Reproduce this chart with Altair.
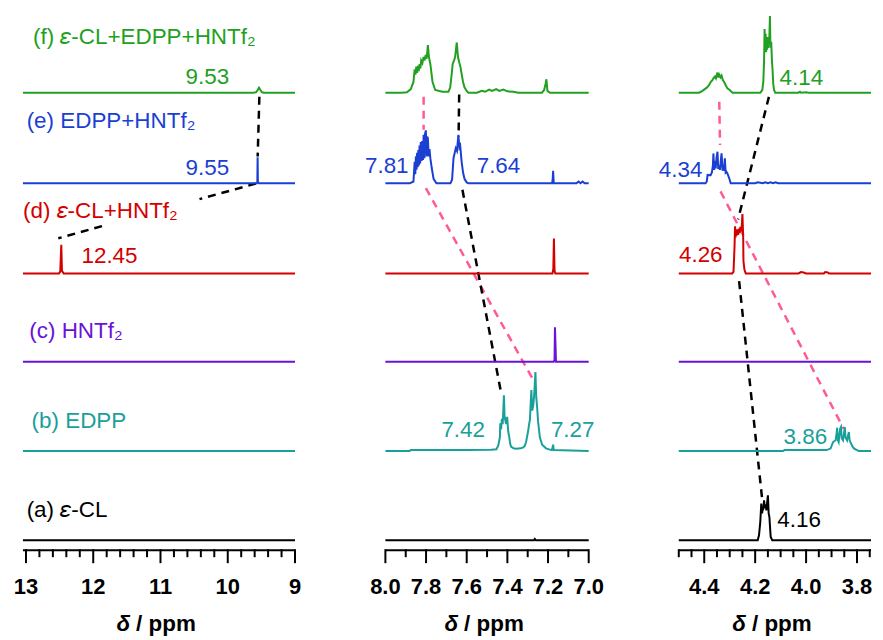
import altair as alt
import pandas as pd

# ---------------- series ----------------
SERIES = ["a", "b", "c", "d", "e", "f"]
SERIES_OFFSET = [0.0, 0.995, 1.99, 2.975, 3.98, 4.99]
SERIES_COLOR = ["#000000", "#1AA09B", "#6A12D8", "#D40000", "#1B3FD2", "#22A022"]
PINK = "#FF5A98"

# ---------------- broken x axis: three ppm windows ----------------
PANEL_PPM_LEFT = [13.045, 8.0, 4.5]
PANEL_PPM_RIGHT = [9.0, 7.0, 3.745]
PANEL_U_LEFT = [0.0, 363.7, 658.1]
PANEL_U_RIGHT = [273.0, 567.7, 851.0]

# ---------------- panel 1 : 13.05 - 9 ppm ----------------
P1_A_PPM = [13.045, 9.0]
P1_A_INT = [0.0, 0.0]
P1_B_PPM = [13.045, 9.0]
P1_B_INT = [0.0, 0.0]
P1_C_PPM = [13.045, 9.0]
P1_C_INT = [0.0, 0.0]
P1_D_PPM = [13.045, 12.51, 12.49, 12.475, 12.465, 12.44, 9.0]
P1_D_INT = [0.0, 0.0, 0.02, 0.32, 0.03, 0.0, 0.0]
P1_E_PPM = [13.045, 9.57, 9.560, 9.556, 9.552, 9.54, 9.0]
P1_E_INT = [0.0, 0.0, 0.01, 0.29, 0.02, 0.0, 0.0]
P1_F_PPM = [13.045, 9.62, 9.58, 9.555, 9.535, 9.515, 9.49, 9.46, 9.0]
P1_F_INT = [0.0, 0.0, 0.005, 0.03, 0.055, 0.03, 0.005, 0.0, 0.0]

# ---------------- panel 2 : 8.0 - 7.0 ppm ----------------
P2_A_PPM = [8.0, 7.27, 7.265, 7.26, 7.0]
P2_A_INT = [0.0, 0.0, 0.015, 0.0, 0.0]
P2_B_PPM = [8.0, 7.88, 7.875, 7.60, 7.48, 7.454, 7.445, 7.437, 7.435, 7.431, 7.427, 7.423,
            7.420, 7.417, 7.414, 7.411, 7.406, 7.401, 7.396, 7.391, 7.386, 7.382, 7.37, 7.356,
            7.335, 7.322, 7.314, 7.308, 7.303, 7.298, 7.293, 7.289, 7.285, 7.282, 7.278, 7.273,
            7.269, 7.265, 7.262, 7.258, 7.254, 7.249, 7.24, 7.229, 7.21, 7.191, 7.182, 7.178,
            7.175, 7.172, 7.0]
P2_B_INT = [0.0, 0.0, 0.01, 0.012, 0.015, 0.02, 0.06, 0.15, 0.31, 0.24, 0.36, 0.30,
            0.45, 0.62, 0.40, 0.35, 0.30, 0.38, 0.22, 0.16, 0.08, 0.05, 0.03, 0.025,
            0.03, 0.04, 0.06, 0.10, 0.16, 0.22, 0.30, 0.35, 0.55, 0.68, 0.45, 0.50,
            0.60, 0.75, 0.88, 0.60, 0.50, 0.33, 0.15, 0.07, 0.03, 0.015, 0.01, 0.04,
            0.07, 0.01, 0.0]
P2_C_PPM = [8.0, 7.172, 7.168, 7.166, 7.163, 7.161, 7.0]
P2_C_INT = [0.0, 0.0, 0.02, 0.385, 0.17, 0.0, 0.0]
P2_D_PPM = [8.0, 7.178, 7.174, 7.171, 7.168, 7.164, 7.0]
P2_D_INT = [0.0, 0.0, 0.05, 0.39, 0.03, 0.0, 0.0]
P2_E_PPM = [8.0, 7.88, 7.862, 7.856, 7.853, 7.850, 7.847, 7.844, 7.841, 7.838, 7.835, 7.832,
            7.829, 7.826, 7.822, 7.819, 7.815, 7.812, 7.808, 7.805, 7.801, 7.797, 7.794, 7.791,
            7.787, 7.783, 7.779, 7.772, 7.763, 7.749, 7.68, 7.672, 7.665, 7.660, 7.654, 7.648,
            7.641, 7.636, 7.632, 7.625, 7.618, 7.611, 7.60, 7.592, 7.18, 7.177, 7.175, 7.172,
            7.06, 7.05, 7.04, 7.03, 7.02, 7.0]
P2_E_INT = [0.0, 0.0, 0.02, 0.24, 0.10, 0.30, 0.15, 0.34, 0.18, 0.37, 0.20, 0.42,
            0.22, 0.46, 0.25, 0.47, 0.26, 0.54, 0.28, 0.55, 0.59, 0.30, 0.52, 0.50,
            0.30, 0.38, 0.28, 0.17, 0.05, 0.0, 0.0, 0.04, 0.28, 0.33, 0.39, 0.36,
            0.54, 0.40, 0.42, 0.24, 0.12, 0.05, 0.01, 0.0, 0.0, 0.05, 0.14, 0.0,
            0.0, 0.02, 0.0, 0.02, 0.0, 0.0]
P2_F_PPM = [8.0, 7.92, 7.894, 7.875, 7.862, 7.856, 7.852, 7.848, 7.844, 7.840, 7.836, 7.832,
            7.828, 7.824, 7.818, 7.812, 7.807, 7.802, 7.797, 7.791, 7.786, 7.779, 7.768, 7.755,
            7.72, 7.69, 7.681, 7.672, 7.669, 7.662, 7.657, 7.649, 7.643, 7.637, 7.630, 7.625,
            7.618, 7.611, 7.60, 7.592, 7.55, 7.526, 7.51, 7.49, 7.475, 7.455, 7.44, 7.42,
            7.40, 7.37, 7.347, 7.23, 7.219, 7.212, 7.208, 7.203, 7.19, 7.0]
P2_F_INT = [0.0, 0.0, 0.005, 0.04, 0.12, 0.26, 0.20, 0.29, 0.22, 0.30, 0.24, 0.32,
            0.27, 0.36, 0.33, 0.40, 0.36, 0.42, 0.38, 0.53, 0.40, 0.32, 0.12, 0.03,
            0.01, 0.01, 0.06, 0.25, 0.32, 0.36, 0.40, 0.56, 0.40, 0.34, 0.28, 0.21,
            0.12, 0.06, 0.02, 0.0, 0.0, 0.02, 0.01, 0.035, 0.02, 0.04, 0.02, 0.035,
            0.015, 0.01, 0.0, 0.0, 0.03, 0.10, 0.15, 0.02, 0.0, 0.0]

# ---------------- panel 3 : 4.5 - 3.745 ppm ----------------
P3_A_PPM = [4.5, 4.19, 4.185, 4.180, 4.176, 4.173, 4.171, 4.168, 4.165, 4.162, 4.159, 4.156,
            4.153, 4.150, 4.147, 4.144, 4.141, 4.139, 4.133, 3.745]
P3_A_INT = [0.0, 0.0, 0.056, 0.2, 0.408, 0.30, 0.333, 0.35, 0.444, 0.36, 0.40, 0.333,
            0.42, 0.5, 0.30, 0.259, 0.12, 0.037, 0.0, 0.0]
P3_B_PPM = [4.5, 4.09, 4.085, 3.92, 3.904, 3.894, 3.884, 3.880, 3.878, 3.875, 3.872, 3.869,
            3.866, 3.863, 3.860, 3.855, 3.851, 3.848, 3.845, 3.839, 3.836, 3.832, 3.829, 3.826,
            3.818, 3.811, 3.80, 3.793, 3.745]
P3_B_INT = [0.0, 0.0, 0.01, 0.01, 0.027, 0.1, 0.12, 0.2, 0.26, 0.12, 0.10, 0.18,
            0.25, 0.267, 0.14, 0.119, 0.2, 0.267, 0.15, 0.119, 0.16, 0.211, 0.12, 0.10,
            0.05, 0.027, 0.01, 0.0, 0.0]
P3_C_PPM = [4.5, 3.745]
P3_C_INT = [0.0, 0.0]
P3_D_PPM = [4.5, 4.29, 4.285, 4.281, 4.279, 4.277, 4.275, 4.273, 4.270, 4.267, 4.264, 4.261,
            4.258, 4.255, 4.252, 4.250, 4.247, 4.246, 4.242, 4.237, 4.03, 4.02, 4.01, 4.0,
            3.93, 3.925, 3.915, 3.91, 3.745]
P3_D_INT = [0.0, 0.0, 0.02, 0.3, 0.526, 0.40, 0.49, 0.42, 0.49, 0.43, 0.50, 0.45,
            0.52, 0.47, 0.55, 0.662, 0.40, 0.137, 0.04, 0.0, 0.0, 0.015, 0.01, 0.0,
            0.0, 0.015, 0.01, 0.0, 0.0]
P3_E_PPM = [4.5, 4.395, 4.39, 4.387, 4.375, 4.37, 4.366, 4.364, 4.361, 4.358, 4.355, 4.352,
            4.348, 4.345, 4.341, 4.338, 4.335, 4.332, 4.328, 4.324, 4.321, 4.319, 4.316, 4.313,
            4.309, 4.302, 4.296, 4.2, 4.19, 4.17, 4.16, 4.15, 4.14, 4.13, 4.12, 4.11, 3.745]
P3_E_INT = [0.0, 0.0, 0.02, 0.093, 0.09, 0.12, 0.20, 0.333, 0.15, 0.25, 0.167, 0.28,
            0.352, 0.16, 0.20, 0.15, 0.25, 0.333, 0.15, 0.149, 0.20, 0.278, 0.12, 0.13,
            0.111, 0.056, 0.0, 0.0, 0.01, 0.0, 0.01, 0.0, 0.01, 0.0, 0.01, 0.0, 0.0]
P3_F_PPM = [4.5, 4.42, 4.407, 4.398, 4.39, 4.382, 4.374, 4.368, 4.364, 4.358, 4.354, 4.348,
            4.344, 4.341, 4.336, 4.332, 4.327, 4.322, 4.315, 4.309, 4.30, 4.289, 4.18, 4.172,
            4.168, 4.165, 4.163, 4.161, 4.159, 4.157, 4.155, 4.153, 4.151, 4.149, 4.147, 4.145,
            4.142, 4.140, 4.137, 4.134, 4.132, 4.129, 4.126, 4.121, 4.03, 4.024, 4.02, 4.0,
            3.99, 3.745]
P3_F_INT = [0.0, 0.0, 0.02, 0.04, 0.056, 0.08, 0.122, 0.14, 0.16, 0.18, 0.16, 0.226,
            0.17, 0.20, 0.17, 0.19, 0.14, 0.12, 0.08, 0.048, 0.03, 0.0, 0.0, 0.03,
            0.12, 0.35, 0.71, 0.45, 0.66, 0.45, 0.62, 0.48, 0.60, 0.50, 0.62, 0.55,
            0.856, 0.50, 0.567, 0.35, 0.27, 0.1, 0.03, 0.0, 0.0, 0.01, 0.0, 0.005,
            0.0, 0.0]

# ---------------- axis ticks ----------------
P1_MAJOR = [9.0, 10.0, 11.0, 12.0, 13.0]
P1_LABELS = ["9", "10", "11", "12", "13"]
P1_MINOR = [9.2, 9.4, 9.6, 9.8, 10.2, 10.4, 10.6, 10.8, 11.2, 11.4, 11.6, 11.8, 12.2, 12.4,
            12.6, 12.8]
P2_MAJOR = [7.0, 7.2, 7.4, 7.6, 7.8, 8.0]
P2_LABELS = ["7.0", "7.2", "7.4", "7.6", "7.8", "8.0"]
P2_MINOR = [7.1, 7.3, 7.5, 7.7, 7.9]
P3_MAJOR = [3.8, 4.0, 4.2, 4.4]
P3_LABELS = ["3.8", "4.0", "4.2", "4.4"]
P3_MINOR = [3.75, 3.85, 3.9, 3.95, 4.05, 4.1, 4.15, 4.25, 4.3, 4.35, 4.45, 4.5]
AXIS_TITLE_SYMBOL = "δ"
AXIS_TITLE_UNIT = "/ ppm"

# ---------------- sample labels (panel 1) ----------------
LABEL_TEXT = ["(f) 𝜀-CL+EDPP+HNTf₂", "(e) EDPP+HNTf₂", "(d) 𝜀-CL+HNTf₂", "(c) HNTf₂",
              "(b) EDPP", "(a) 𝜀-CL"]
LABEL_KEY = ["f", "e", "d", "c", "b", "a"]
LABEL_PPM = [12.896, 12.99, 13.044, 12.95, 12.916, 12.99]
LABEL_Y = [5.63, 4.689, 3.681, 2.352, 1.339, 0.356]

# ---------------- peak value labels ----------------
NUM_TEXT = ["9.53", "9.55", "12.45", "7.81", "7.64", "7.42", "7.27", "4.34", "4.14", "4.26",
            "3.86", "4.16"]
NUM_PANEL = [0, 0, 0, 1, 1, 1, 1, 2, 2, 2, 2, 2]
NUM_KEY = ["f", "e", "d", "e", "e", "b", "b", "e", "f", "d", "b", "a"]
NUM_PPM = [9.978, 9.978, 12.175, 7.886, 7.551, 7.510, 7.186, 4.407, 4.104, 4.328, 3.917, 4.113]
NUM_Y = [5.185, 4.167, 3.185, 4.19, 4.19, 1.241, 1.241, 4.148, 5.17, 3.19, 1.17, 0.244]
NUM_ALIGN = ["right", "right", "left", "right", "left", "right", "left", "right", "left",
             "right", "right", "left"]

# ---------------- dashed correlation lines (visible pieces) ----------------
DASH_PANEL = [0, 0, 0, 1, 1, 1, 1, 2, 2, 2, 2]
DASH_KEY = ["a", "a", "a", "pink", "pink", "a", "a", "pink", "pink", "a", "a"]
DASH_X1 = [9.53, 9.58, 11.87, 7.812, 7.801, 7.637, 7.621, 4.341, 4.336, 4.146, 4.263]
DASH_Y1 = [4.944, 3.978, 3.502, 4.944, 3.926, 4.97, 3.907, 4.889, 3.889, 4.944, 2.889]
DASH_X2 = [9.555, 10.42, 12.52, 7.812, 7.265, 7.64, 7.43, 4.338, 3.852, 4.267, 4.172]
DASH_Y2 = [4.278, 3.803, 3.367, 4.578, 1.756, 4.5, 1.633, 4.408, 1.241, 3.578, 0.444]


# ---------------- build tables ----------------
def to_u(panel, ppm):
    pl, pr = PANEL_PPM_LEFT[panel], PANEL_PPM_RIGHT[panel]
    ul, ur = PANEL_U_LEFT[panel], PANEL_U_RIGHT[panel]
    return ul + (pl - ppm) / (pl - pr) * (ur - ul)


SPECTRA = [
    [("a", P1_A_PPM, P1_A_INT), ("b", P1_B_PPM, P1_B_INT), ("c", P1_C_PPM, P1_C_INT),
     ("d", P1_D_PPM, P1_D_INT), ("e", P1_E_PPM, P1_E_INT), ("f", P1_F_PPM, P1_F_INT)],
    [("a", P2_A_PPM, P2_A_INT), ("b", P2_B_PPM, P2_B_INT), ("c", P2_C_PPM, P2_C_INT),
     ("d", P2_D_PPM, P2_D_INT), ("e", P2_E_PPM, P2_E_INT), ("f", P2_F_PPM, P2_F_INT)],
    [("a", P3_A_PPM, P3_A_INT), ("b", P3_B_PPM, P3_B_INT), ("c", P3_C_PPM, P3_C_INT),
     ("d", P3_D_PPM, P3_D_INT), ("e", P3_E_PPM, P3_E_INT), ("f", P3_F_PPM, P3_F_INT)],
]

rows = []
for panel, group in enumerate(SPECTRA):
    for key, ppm, inten in group:
        off = SERIES_OFFSET[SERIES.index(key)]
        for i, (p, v) in enumerate(zip(ppm, inten)):
            rows.append({"u": to_u(panel, p), "y": off + v, "key": key,
                         "grp": f"{panel}-{key}", "idx": i})
spec_df = pd.DataFrame(rows)

text_rows = []
for t, k, p, y in zip(LABEL_TEXT, LABEL_KEY, LABEL_PPM, LABEL_Y):
    text_rows.append({"u": to_u(0, p), "y": y - 0.015, "text": t, "key": k, "side": "left"})
for t, pn, k, p, y, s in zip(NUM_TEXT, NUM_PANEL, NUM_KEY, NUM_PPM, NUM_Y, NUM_ALIGN):
    text_rows.append({"u": to_u(pn, p), "y": y - 0.015, "text": t, "key": k, "side": s})
text_df = pd.DataFrame(text_rows)

dash_df = pd.DataFrame({
    "u1": [to_u(p, x) for p, x in zip(DASH_PANEL, DASH_X1)], "y1": DASH_Y1,
    "u2": [to_u(p, x) for p, x in zip(DASH_PANEL, DASH_X2)], "y2": DASH_Y2,
    "key": DASH_KEY})

majors = [(0, P1_MAJOR, P1_LABELS), (1, P2_MAJOR, P2_LABELS), (2, P3_MAJOR, P3_LABELS)]
major_df = pd.DataFrame([{"u": to_u(pn, v), "label": lab}
                         for pn, vals, labs in majors for v, lab in zip(vals, labs)])
minor_df = pd.DataFrame([{"u": to_u(pn, v)}
                         for pn, vals in [(0, P1_MINOR), (1, P2_MINOR), (2, P3_MINOR)]
                         for v in vals])
frame_df = pd.DataFrame({"u1": PANEL_U_LEFT, "u2": PANEL_U_RIGHT,
                         "uc": [(a + b) / 2 for a, b in zip(PANEL_U_LEFT, PANEL_U_RIGHT)]})

# ---------------- chart ----------------
WIDTH = 851
HEIGHT = 540
FONT = "Liberation Sans"
X = alt.Scale(domain=[0, WIDTH], nice=False, zero=False)
Y = alt.Scale(domain=[-0.1111, 5.8889], nice=False, zero=False)
COLOR = alt.Color("key:N", scale=alt.Scale(domain=SERIES + ["pink"],
                                          range=SERIES_COLOR + [PINK]), legend=None)

dashes = alt.Chart(dash_df).mark_rule(strokeWidth=2.5, strokeDash=[8, 6]).encode(
    x=alt.X("u1:Q", scale=X, axis=None), x2="u2:Q",
    y=alt.Y("y1:Q", scale=Y, axis=None), y2="y2:Q", color=COLOR)

lines = alt.Chart(spec_df).mark_line(strokeWidth=2).encode(
    x=alt.X("u:Q", scale=X, axis=None),
    y=alt.Y("y:Q", scale=Y, axis=None),
    color=COLOR, detail="grp:N", order="idx:Q")

text_layers = []
for side in ["left", "right"]:
    text_layers.append(alt.Chart(text_df[text_df["side"] == side]).mark_text(
        align=side, baseline="middle", font=FONT, fontSize=22.5).encode(
        x=alt.X("u:Q", scale=X, axis=None), y=alt.Y("y:Q", scale=Y, axis=None),
        text="text:N", color=COLOR))

domain_line = alt.Chart(frame_df).mark_rule(color="black", strokeWidth=2).encode(
    x=alt.X("u1:Q", scale=X, axis=None), x2="u2:Q", y=alt.value(HEIGHT))
major_ticks = alt.Chart(major_df).mark_rule(color="black", strokeWidth=2).encode(
    x=alt.X("u:Q", scale=X, axis=None), y=alt.value(HEIGHT - 1), y2=alt.value(HEIGHT + 13))
minor_ticks = alt.Chart(minor_df).mark_rule(color="black", strokeWidth=2).encode(
    x=alt.X("u:Q", scale=X, axis=None), y=alt.value(HEIGHT - 1), y2=alt.value(HEIGHT + 7))
tick_labels = alt.Chart(major_df).mark_text(
    font=FONT, fontSize=22, fontWeight="bold", color="black", baseline="middle").encode(
    x=alt.X("u:Q", scale=X, axis=None), y=alt.value(HEIGHT + 37), text="label:N")
title_sym = alt.Chart(frame_df).mark_text(
    font=FONT, fontSize=22.5, fontWeight="bold", fontStyle="italic", color="black",
    align="right", baseline="alphabetic", dx=-29).encode(
    x=alt.X("uc:Q", scale=X, axis=None), y=alt.value(HEIGHT + 81.5),
    text=alt.value(AXIS_TITLE_SYMBOL))
title_unit = alt.Chart(frame_df).mark_text(
    font=FONT, fontSize=22.5, fontWeight="bold", color="black", align="left",
    baseline="alphabetic", dx=-23).encode(
    x=alt.X("uc:Q", scale=X, axis=None), y=alt.value(HEIGHT + 81.5),
    text=alt.value(AXIS_TITLE_UNIT))

chart = alt.layer(
    dashes, lines, *text_layers, domain_line, major_ticks, minor_ticks, tick_labels,
    title_sym, title_unit
).properties(
    width=WIDTH, height=HEIGHT,
    padding={"left": 5, "top": 2, "right": 0, "bottom": 2}
).configure_view(stroke=None)

chart.save("out.html", embed_options={"renderer": "svg", "actions": False})
